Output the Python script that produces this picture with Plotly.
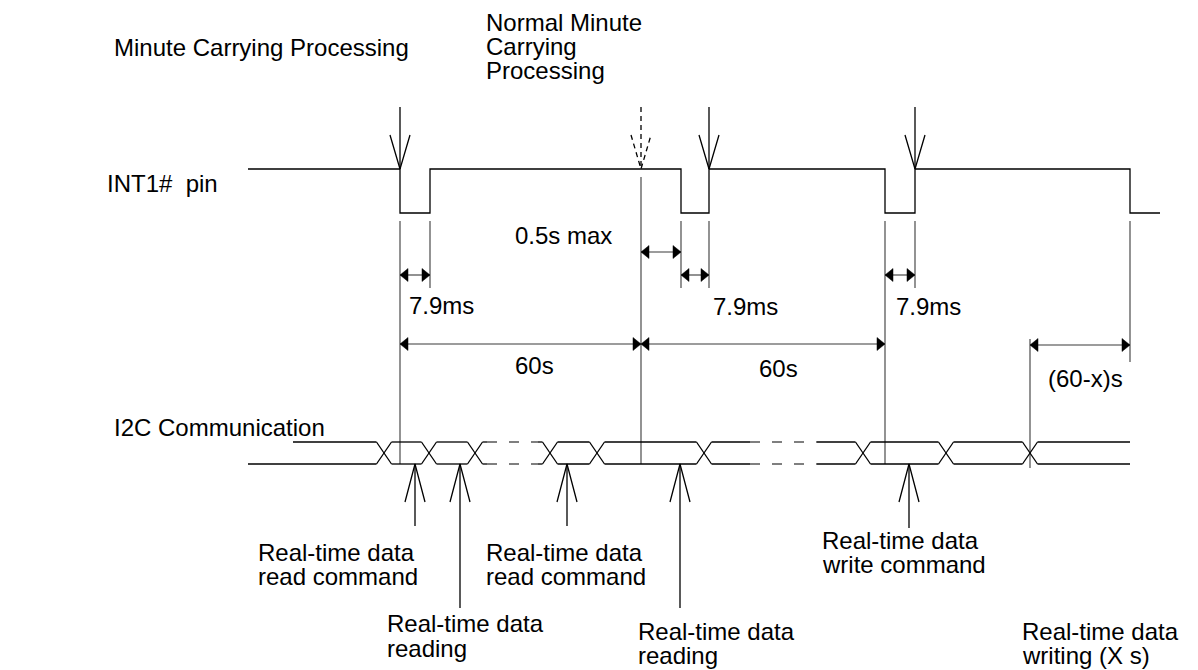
import plotly.graph_objects as go

W, H = 1198, 670

# ---------------- data (drawing units, x = time axis, y = row position) -------------
# INT1# pin waveform
int1_x_start = 248
int1_x_end = 1160
int1_high = 169
int1_low = 213
int1_fall = [400, 681, 885, 1130]
int1_rise = [430, 709, 915]

# minute-carry down arrows onto INT1#
carry_solid = [400, 709, 915]
carry_dashed = [641]
carry_top = 107

# extension (reference) lines
ext_x = [400, 430, 641, 681, 709, 885, 915, 1130, 1030]
ext_y0 = [221, 221, 177, 221, 221, 221, 221, 221, 339]
ext_y1 = [464, 288, 464, 288, 288, 464, 288, 362, 468]

# dimension arrows
dim_x0 = [400, 641, 681, 885, 400, 641, 1030]
dim_x1 = [430, 681, 709, 915, 641, 885, 1130]
dim_y = [275, 252, 275, 275, 344, 344, 345]

# I2C bus
bus_top = 442
bus_bot = 464
bus_top_start = 293
bus_bot_start = 248
bus_end = 1130
bus_cross = [384, 429, 475, 550, 597, 704, 863, 946, 1030]
bus_dashed = [(487, 538), (750, 817)]

# up arrows under the bus
up_x = [415, 460, 567, 680, 909]
up_end = [526, 608, 526, 608, 528]

# text labels
label_text = [
    "Minute Carrying Processing",
    "Normal Minute", "Carrying", "Processing",
    "INT1#  pin", "I2C Communication",
    "0.5s max", "7.9ms", "7.9ms", "7.9ms", "60s", "60s", "(60-x)s",
    "Real-time data", "read command",
    "Real-time data", "reading",
    "Real-time data", "read command",
    "Real-time data", "reading",
    "Real-time data", "write command",
    "Real-time data", "writing (X s)",
]
label_x = [112, 484, 484, 484, 105, 112, 513, 407, 711, 894, 513, 757, 1046,
           256, 256, 385, 385, 484, 484, 636, 636, 820, 820, 1020, 1020]
label_y = [47, 22, 46, 70, 183, 427, 235, 305, 306, 306, 365, 368, 378,
           552, 576, 623, 648, 552, 576, 631, 655, 540, 564, 631, 655]

# ---------------- drawing ----------------
BLACK = "#000000"
GRAY = "#3a3a3a"
LW = 1.3
HEAD_HALF = 10
HEAD_LEN = 36
TRI_LEN = 8
TRI_HALF = 6.5
CH = 7.5  # half width of bus crossing

fig = go.Figure()


def add_lines(xs, ys, color=BLACK, width=LW, dash="solid"):
    fig.add_trace(go.Scatter(x=xs, y=ys, mode="lines", hoverinfo="skip",
                             line=dict(color=color, width=width, dash=dash),
                             showlegend=False))


# INT1 waveform
wx, wy = [int1_x_start], [int1_high]
for i, f in enumerate(int1_fall):
    wx += [f, f]
    wy += [int1_high, int1_low]
    if i < len(int1_rise):
        r = int1_rise[i]
        wx += [r, r]
        wy += [int1_low, int1_high]
wx.append(int1_x_end)
wy.append(int1_low)
add_lines(wx, wy)

# down arrows (solid)
ax, ay = [], []
for x in carry_solid:
    ax += [x, x, None, x - HEAD_HALF, x, x + HEAD_HALF, None]
    ay += [carry_top, int1_high, None, int1_high - HEAD_LEN + 2, int1_high, int1_high - HEAD_LEN + 2, None]
add_lines(ax, ay)
# dashed arrow
dx, dy = [], []
for x in carry_dashed:
    dx += [x, x, None, x - HEAD_HALF, x, x + HEAD_HALF, None]
    dy += [carry_top, int1_high, None, int1_high - HEAD_LEN + 2, int1_high, int1_high - HEAD_LEN + 2, None]
add_lines(dx, dy, dash="5px,4px")

# extension lines
ex, ey = [], []
for x, a, b in zip(ext_x, ext_y0, ext_y1):
    ex += [x, x, None]
    ey += [a, b, None]
add_lines(ex, ey, color=GRAY, width=1.1)

# dimension arrows: shafts + filled heads
sx, sy = [], []
for a, b, y in zip(dim_x0, dim_x1, dim_y):
    sx += [a, b, None]
    sy += [y, y, None]
add_lines(sx, sy, color=GRAY, width=1.1)
tx, ty = [], []
for a, b, y in zip(dim_x0, dim_x1, dim_y):
    tx += [a, a + TRI_LEN, a + TRI_LEN, a, None]
    ty += [y, y - TRI_HALF, y + TRI_HALF, y, None]
    tx += [b, b - TRI_LEN, b - TRI_LEN, b, None]
    ty += [y, y - TRI_HALF, y + TRI_HALF, y, None]
fig.add_trace(go.Scatter(x=tx, y=ty, mode="lines", fill="toself", fillcolor=BLACK,
                         line=dict(color=BLACK, width=0.5), hoverinfo="skip", showlegend=False))

# I2C bus
solid_x, solid_y, dash_x, dash_y = [], [], [], []


def bus_segment(x0, x1, y):
    cuts = [(a, b) for a, b in bus_dashed if a >= x0 and b <= x1]
    cur = x0
    for a, b in cuts:
        solid_x.extend([cur, a, None]); solid_y.extend([y, y, None])
        dash_x.extend([a, b, None]); dash_y.extend([y, y, None])
        cur = b
    solid_x.extend([cur, x1, None]); solid_y.extend([y, y, None])


bus_segment(bus_top_start, bus_cross[0] - CH, bus_top)
bus_segment(bus_bot_start, bus_cross[0] - CH, bus_bot)
for c0, c1 in zip(bus_cross[:-1], bus_cross[1:]):
    bus_segment(c0 + CH, c1 - CH, bus_top)
    bus_segment(c0 + CH, c1 - CH, bus_bot)
bus_segment(bus_cross[-1] + CH, bus_end, bus_top)
bus_segment(bus_cross[-1] + CH, bus_end, bus_bot)
for c in bus_cross:
    solid_x += [c - CH, c + CH, None, c - CH, c + CH, None]
    solid_y += [bus_top, bus_bot, None, bus_bot, bus_top, None]
add_lines(solid_x, solid_y)
add_lines(dash_x, dash_y, color="#555555", dash="10px,12px")

# up arrows
ux, uy = [], []
for x, e in zip(up_x, up_end):
    ux += [x, x, None, x - HEAD_HALF, x, x + HEAD_HALF, None]
    uy += [e, bus_bot, None, bus_bot + HEAD_LEN + 2, bus_bot, bus_bot + HEAD_LEN + 2, None]
add_lines(ux, uy)

for t, x, y in zip(label_text, label_x, label_y):
    fig.add_annotation(x=x, y=y, text=t, showarrow=False, xanchor="left", yanchor="middle",
                       font=dict(family="Liberation Sans, Arial, sans-serif", size=24, color=BLACK))

fig.update_xaxes(range=[0, W], visible=False, fixedrange=True)
fig.update_yaxes(range=[H, 0], visible=False, fixedrange=True)
fig.update_layout(width=W, height=H, margin=dict(l=0, r=0, t=0, b=0),
                  plot_bgcolor="white", paper_bgcolor="white", showlegend=False)

fig.write_html("out.html", config={"displayModeBar": False},
               post_script="document.body.style.margin='0';document.body.style.overflow='hidden';")
